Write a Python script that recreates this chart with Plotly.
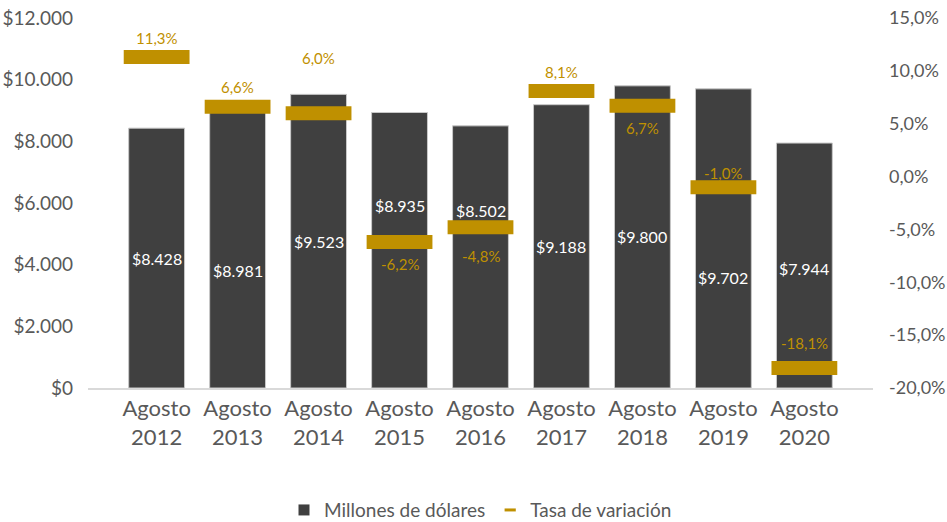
import plotly.graph_objects as go

categories = ["Agosto<br>2012", "Agosto<br>2013", "Agosto<br>2014", "Agosto<br>2015", "Agosto<br>2016",
              "Agosto<br>2017", "Agosto<br>2018", "Agosto<br>2019", "Agosto<br>2020"]
millones = [8428, 8981, 9523, 8935, 8502, 9188, 9800, 9702, 7944]
variacion = [11.3, 6.6, 6.0, -6.2, -4.8, 8.1, 6.7, -1.0, -18.1]
left_ticks = [0, 2000, 4000, 6000, 8000, 10000, 12000]
right_ticks = [-20, -15, -10, -5, 0, 5, 10, 15]

# label placement (style): value-label y in left-axis units, pct label offset in px
bar_label_y = [4214, 3795, 4761, 5935, 5773, 4594, 4900, 3568, 3892]
pct_offset = [-19, -20, -55, 22, 29, -19, 22, -14, -25]

DARK = "#404040"
GOLD = "#BF9000"
GREY = "#595959"
FONT = "Lato"

def fmt_money(v):
    return "$" + f"{v:,}".replace(",", ".")

def fmt_pct(v):
    return f"{v:.1f}".replace(".", ",") + "%"

fig = go.Figure()
fig.add_trace(go.Bar(x=categories, y=millones, name="Millones de dólares",
                     marker=dict(color=DARK, line=dict(color="#C8C8C8", width=1)),
                     showlegend=False, hoverinfo="y"))
fig.add_trace(go.Scatter(x=categories, y=variacion, yaxis="y2", mode="markers",
                         name="Tasa de variación", showlegend=False,
                         marker=dict(symbol="line-ew", size=47, color=GOLD,
                                     line=dict(color=GOLD, width=14))))
# legend entries
fig.add_trace(go.Scatter(x=[None], y=[None], mode="markers", name="Millones de dólares",
                         marker=dict(symbol="square", size=11, color=DARK)))
fig.add_trace(go.Scatter(x=[None], y=[None], yaxis="y2", mode="markers", name="Tasa de variación",
                         marker=dict(symbol="line-ew", size=8, color=GOLD,
                                     line=dict(color=GOLD, width=3))))

for c, v, ly in zip(categories, millones, bar_label_y):
    fig.add_annotation(x=c, y=ly, text=fmt_money(v), showarrow=False,
                       font=dict(family=FONT, size=16, color="white"))
for c, v, off in zip(categories, variacion, pct_offset):
    fig.add_annotation(x=c, y=v, yref="y2", text=fmt_pct(v), showarrow=False,
                       yshift=-off, font=dict(family=FONT, size=15, color=GOLD))

fig.update_layout(
    width=947, height=522,
    margin=dict(l=88, r=74, t=18, b=134, autoexpand=False),
    paper_bgcolor="white", plot_bgcolor="white",
    bargap=0.31, barmode="overlay",
    font=dict(family=FONT, color=GREY),
    xaxis=dict(showgrid=False, showline=True, linecolor="#D9D9D9", linewidth=1.5,
               tickfont=dict(size=22, color=GREY), ticks="", automargin=False),
    yaxis=dict(range=[0, 12000], tickvals=left_ticks,
               ticktext=[fmt_money(t) for t in left_ticks],
               showgrid=False, zeroline=False, showline=False, automargin=False,
               tickfont=dict(size=19, color=GREY), ticklabelstandoff=14),
    yaxis2=dict(range=[-20, 15], overlaying="y", side="right", tickvals=right_ticks,
                ticktext=[fmt_pct(t) for t in right_ticks],
                showgrid=False, zeroline=False, showline=False, automargin=False,
                tickfont=dict(size=18, color=GREY), ticklabelstandoff=15),
    legend=dict(orientation="h", x=0.5, xanchor="center", y=-0.33, yanchor="middle",
                font=dict(size=19, color=GREY), itemwidth=30, tracegroupgap=0),
)

fig.write_html("out.html", config={"displayModeBar": False},
               post_script="document.body.style.margin='0';")
